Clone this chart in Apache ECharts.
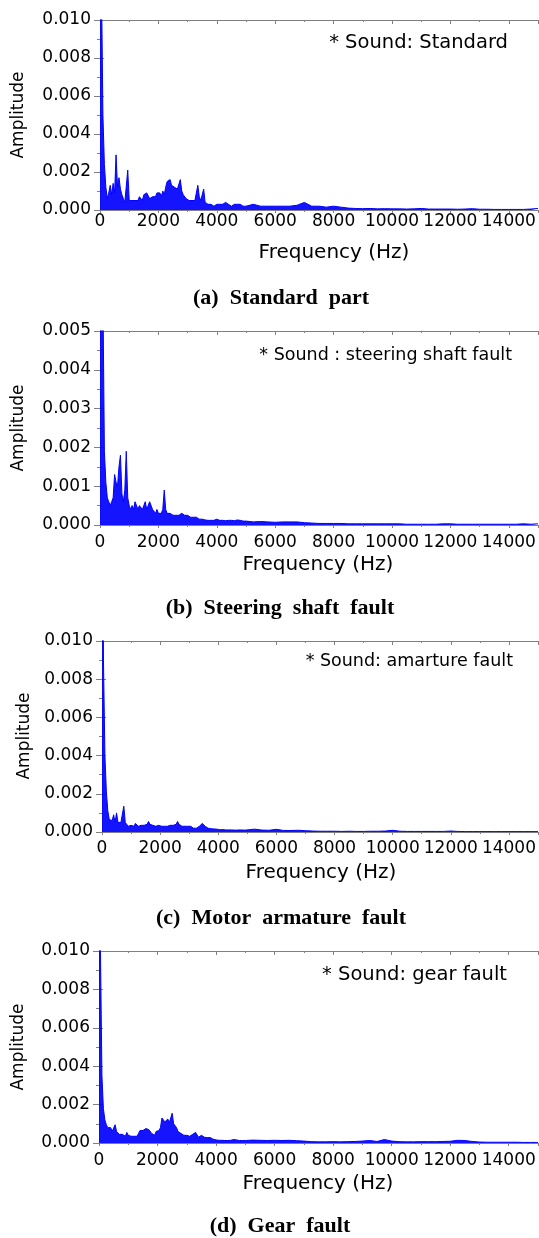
<!DOCTYPE html>
<html>
<head>
<meta charset="utf-8">
<script src="https://cdn.jsdelivr.net/npm/echarts@6/dist/echarts.min.js"></script>
<style>
  html, body { margin: 0; padding: 0; background: #fff; }
  #main { width: 539px; height: 1238px; }
</style>
</head>
<body>
<div id="main"></div>
<script>
var chartDom = document.getElementById('main');
var myChart = echarts.init(chartDom);
var option;

// frequency grid (Hz): 50 Hz steps up to 5000, 250 Hz steps above
const freqLow = [
  0, 50, 100, 150, 200, 250, 300, 350, 400, 450,
  500, 550, 600, 650, 700, 750, 800, 850, 900, 950,
  1000, 1050, 1100, 1150, 1200, 1250, 1300, 1350, 1400, 1450,
  1500, 1550, 1600, 1650, 1700, 1750, 1800, 1850, 1900, 1950,
  2000, 2050, 2100, 2150, 2200, 2250, 2300, 2350, 2400, 2450,
  2500, 2550, 2600, 2650, 2700, 2750, 2800, 2850, 2900, 2950,
  3000, 3050, 3100, 3150, 3200, 3250, 3300, 3350, 3400, 3450,
  3500, 3550, 3600, 3650, 3700, 3750, 3800, 3850, 3900, 3950,
  4000, 4050, 4100, 4150, 4200, 4250, 4300, 4350, 4400, 4450,
  4500, 4550, 4600, 4650, 4700, 4750, 4800, 4850, 4900, 4950,
  5000
];
const freqHigh = [
  5250, 5500, 5750, 6000, 6250, 6500, 6750, 7000,
  7250, 7500, 7750, 8000, 8250, 8500, 8750, 9000,
  9250, 9500, 9750, 10000, 10250, 10500, 10750, 11000,
  11250, 11500, 11750, 12000, 12250, 12500, 12750, 13000,
  13250, 13500, 13750, 14000, 14250, 14500, 14750, 15000
];

// amplitudes in units of 1e-4
const standardLow = [
  300, 120, 50, 24, 12, 6, 9, 13, 8, 14,
  9, 29, 12, 17, 11, 8, 6, 4, 5, 21,
  5, 4, 5, 6, 5, 6, 5, 7, 6, 5,
  8, 7, 9, 8, 6, 5, 7, 6, 7, 9,
  8, 9, 7, 10, 8, 12, 15, 14, 16, 13,
  14, 12, 13, 11, 12, 16, 10, 8, 7, 6,
  5, 5, 4, 5, 4, 5, 6, 13, 7, 5,
  6, 11, 4, 3, 3, 4, 3, 3, 2, 3,
  3, 3, 3, 4, 3, 4, 4, 3, 3, 3,
  2, 3, 3, 2, 3, 2, 3, 2, 2, 3,
  2
];
const standardHigh = [
  3, 2, 2, 2, 2, 2, 2.5, 4,
  2, 2, 1.5, 2, 1.5, 1, 0.8, 0.7,
  0.8, 0.6, 0.7, 0.6, 0.6, 0.5, 0.6, 0.8,
  0.5, 0.5, 0.5, 0.5, 0.4, 0.5, 0.7, 0.4,
  0.4, 0.3, 0.3, 0.3, 0.3, 0.3, 0.5, 0.8
];
const steeringLow = [
  300, 100, 60, 19, 11, 7, 6, 5, 6, 7,
  13, 11, 10, 15, 18, 8, 6, 9, 19, 7,
  5, 4, 5, 4, 6, 6, 4, 5, 5, 4,
  5, 6, 4, 5, 6, 6, 4, 4, 3, 4,
  3, 3, 3, 4, 9, 4, 3, 3, 3, 3,
  2.5, 3, 2.5, 3, 2.5, 2.5, 3, 2.5, 2.5, 2.5,
  2.5, 2, 2, 2, 2, 1.8, 2, 1.8, 1.5, 1.5,
  1.5, 1.2, 1.3, 1.2, 1.2, 1.3, 1.2, 1.2, 1.2, 1.3,
  1.5, 1.2, 1.2, 1.3, 1.2, 1.2, 1.1, 1.2, 1.2, 1.1,
  1.2, 1.1, 1.1, 1.2, 1.3, 1.1, 1.2, 1.1, 1, 1.1,
  1
];
const steeringHigh = [
  0.8, 0.9, 0.8, 0.7, 0.8, 0.8, 0.8, 0.6,
  0.5, 0.4, 0.4, 0.4, 0.4, 0.3, 0.3, 0.3,
  0.3, 0.3, 0.3, 0.3, 0.3, 0.2, 0.2, 0.2,
  0.2, 0.2, 0.3, 0.3, 0.2, 0.2, 0.2, 0.2,
  0.2, 0.2, 0.2, 0.2, 0.2, 0.3, 0.2, 0.3
];
const armatureLow = [
  300, 90, 40, 21, 11, 6.5, 5.5, 6, 9, 5,
  10, 5, 4.5, 5, 4.5, 13.5, 5, 4, 3, 3,
  3.5, 3, 3, 4.5, 3.5, 3, 3, 3.5, 3, 3.5,
  3, 4, 5.5, 4, 3.5, 3.5, 3.5, 3, 3.5, 3.5,
  3, 3, 2.5, 3, 2.5, 3, 2.5, 3.5, 4, 3.5,
  4.5, 4, 5.5, 4, 3.5, 3, 3.5, 3, 3.5, 3,
  3.5, 3, 2.5, 2, 2, 2, 2.5, 3, 3.5, 4.5,
  4.5, 3, 2, 2, 1.8, 1.7, 1.8, 1.6, 1.5, 1.5,
  1.3, 1.2, 1.2, 1.3, 1.2, 1.1, 1.2, 1.1, 1.2, 1.1,
  1.1, 1, 1.1, 1, 1.2, 1.1, 1.1, 1, 1, 1,
  1
];
const armatureHigh = [
  1.5, 1, 0.9, 1.4, 0.8, 0.8, 0.9, 0.7,
  0.5, 0.4, 0.4, 0.4, 0.3, 0.4, 0.3, 0.3,
  0.4, 0.4, 0.5, 0.9, 0.4, 0.3, 0.3, 0.3,
  0.3, 0.3, 0.3, 0.5, 0.3, 0.2, 0.2, 0.2,
  0.2, 0.2, 0.2, 0.2, 0.2, 0.2, 0.2, 0.2
];
const gearLow = [
  300, 100, 35, 18, 12, 9.5, 8, 7.5, 8, 6,
  7, 9.5, 6, 6, 4.5, 4, 4.5, 4, 3.5, 5.5,
  4, 3.5, 3.5, 3.5, 3.5, 4, 3.5, 5, 6.5, 7,
  6.5, 7, 7.5, 6.5, 7, 6, 5, 4.5, 4, 6,
  7, 6.5, 8, 13, 14, 11, 12, 12.5, 10.5, 13,
  15.5, 10, 9, 8, 6, 5.5, 5, 5.5, 4, 3.5,
  4, 3.5, 3.5, 4, 4.5, 5, 5.5, 4.5, 3, 3.5,
  4, 3, 3, 2.8, 2.8, 2.6, 2.8, 2.5, 2, 1.8,
  1.6, 1.5, 1.4, 1.3, 1.4, 1.5, 1.3, 1.4, 1.3, 1.3,
  1.4, 1.6, 1.8, 2, 1.6, 1.4, 1.3, 1.4, 1.3, 1.4,
  1.3
];
const gearHigh = [
  1.5, 1.4, 1.3, 1.4, 1.3, 1.4, 1.2, 1,
  0.7, 0.6, 0.6, 0.7, 0.6, 0.7, 0.8, 1,
  1.3, 0.8, 1.8, 1, 0.7, 0.6, 0.6, 0.7,
  0.7, 0.7, 0.8, 0.9, 1.4, 1.3, 0.8, 0.5,
  0.4, 0.4, 0.4, 0.4, 0.4, 0.3, 0.3, 0.3
];

const xTicks = { min: 0, max: 15000, interval: 2000 };
const yMaxes = [0.010, 0.005, 0.010, 0.010];
const yIntervals = [0.002, 0.001, 0.002, 0.002];
const notes = ['* Sound: Standard', '* Sound : steering shaft fault', '* Sound: amarture fault', '* Sound: gear fault'];
const captions = ['(a)  Standard  part', '(b)  Steering  shaft  fault', '(c)  Motor  armature  fault', '(d)  Gear  fault'];

const spectra = [
  [standardLow, standardHigh],
  [steeringLow, steeringHigh],
  [armatureLow, armatureHigh],
  [gearLow, gearHigh]
];
const freqs = freqLow.concat(freqHigh);

// layout of each panel
const boxes = [
  { left: 100, top: 20, width: 438, height: 190, xm: 3, amp: [19, 115], freq: [334, 253], note: [508, 43, 19.5], cap: [281, 298] },
  { left: 100, top: 331, width: 438, height: 194, xm: 9, amp: [19, 428], freq: [318, 565], note: [512, 355, 17.5], cap: [280, 608] },
  { left: 102, top: 641, width: 436, height: 191, xm: 8, amp: [25, 736], freq: [321, 873], note: [513, 661, 17.5], cap: [281, 918] },
  { left: 99, top: 951, width: 439, height: 192, xm: 9, amp: [19, 1047], freq: [318, 1184], note: [507, 975, 19.5], cap: [280, 1226] }
];

const axisGray = '#808080';
const font = 'DejaVu Sans';

var grids = [], xAxes = [], yAxes = [], series = [], texts = [];
boxes.forEach(function (b, i) {
  grids.push({ left: b.left, top: b.top, width: b.width, height: b.height });
  xAxes.push({
    gridIndex: i, type: 'value', min: xTicks.min, max: xTicks.max, interval: xTicks.interval,
    axisLine: { onZero: false, lineStyle: { color: axisGray, width: 1 } },
    axisTick: { length: 3, lineStyle: { color: axisGray } },
    minorTick: { show: true, splitNumber: 2, length: 2, lineStyle: { color: axisGray } },
    splitLine: { show: false },
    axisLabel: {
      color: '#000', fontFamily: font, fontSize: 17, margin: b.xm, showMaxLabel: false,
      formatter: function (v) { return String(v); }
    }
  });
  xAxes.push({
    gridIndex: i, type: 'value', position: 'top', min: xTicks.min, max: xTicks.max, interval: xTicks.interval,
    axisLine: { onZero: false, lineStyle: { color: axisGray, width: 1 } },
    axisTick: { inside: true, length: 4, lineStyle: { color: axisGray } },
    minorTick: { show: true, splitNumber: 2, length: 2, lineStyle: { color: axisGray } },
    splitLine: { show: false },
    axisLabel: { show: false }
  });
  yAxes.push({
    gridIndex: i, type: 'value', min: 0, max: yMaxes[i], interval: yIntervals[i],
    axisLine: { show: true, lineStyle: { color: axisGray, width: 1 } },
    axisTick: { show: true, length: 6, lineStyle: { color: axisGray } },
    minorTick: { show: true, splitNumber: 2, length: 3, lineStyle: { color: axisGray } },
    splitLine: { show: false },
    axisLabel: {
      color: '#000', fontFamily: font, fontSize: 17, margin: 9,
      formatter: function (v) { return v.toFixed(3); }
    }
  });
  yAxes.push({
    gridIndex: i, type: 'value', position: 'right', min: 0, max: yMaxes[i], interval: yIntervals[i],
    axisLine: { show: true, lineStyle: { color: axisGray, width: 1 } },
    axisTick: { show: true, length: 4, lineStyle: { color: axisGray } },
    minorTick: { show: true, splitNumber: 2, length: 2, lineStyle: { color: axisGray } },
    splitLine: { show: false },
    axisLabel: { show: false }
  });

  var amps = spectra[i][0].concat(spectra[i][1]);
  series.push({
    type: 'line',
    xAxisIndex: i * 2,
    yAxisIndex: i * 2,
    data: freqs.map(function (f, k) { return [f, amps[k] * 1e-4]; }),
    showSymbol: false,
    clip: true,
    lineStyle: { color: '#0000ff', width: 1 },
    areaStyle: { color: '#0000ff', opacity: 0.92 },
    silent: true
  });

  texts.push({
    type: 'text', x: b.amp[0], y: b.amp[1], rotation: Math.PI / 2,
    style: { text: 'Amplitude', font: '17px "DejaVu Sans"', fill: '#000', textAlign: 'center', textVerticalAlign: 'middle' }
  });
  texts.push({
    type: 'text', x: b.freq[0], y: b.freq[1],
    style: { text: 'Frequency (Hz)', font: '20px "DejaVu Sans"', fill: '#000', textAlign: 'center', textVerticalAlign: 'middle' }
  });
  texts.push({
    type: 'text', x: b.note[0], y: b.note[1],
    style: { text: notes[i], font: b.note[2] + 'px "DejaVu Sans"', fill: '#000', textAlign: 'right', textVerticalAlign: 'middle' }
  });
  texts.push({
    type: 'text', x: b.cap[0], y: b.cap[1],
    style: { text: captions[i], font: 'bold 22px "Liberation Serif"', fill: '#000', textAlign: 'center', textVerticalAlign: 'middle' }
  });
});

option = {
  animation: false,
  backgroundColor: '#fff',
  grid: grids,
  xAxis: xAxes,
  yAxis: yAxes,
  series: series,
  graphic: texts
};

option && myChart.setOption(option);
</script>
</body>
</html>
